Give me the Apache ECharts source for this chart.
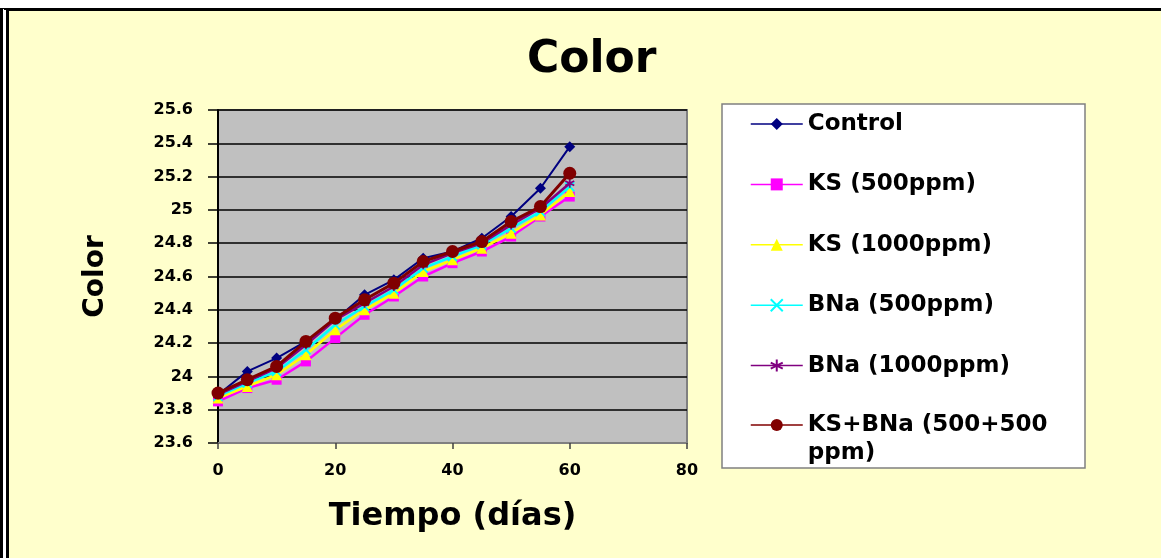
<!DOCTYPE html>
<html>
<head>
<meta charset="utf-8">
<script src="https://cdn.jsdelivr.net/npm/echarts@6/dist/echarts.min.js"></script>
<style>
  html, body { margin: 0; padding: 0; background: #ffffff; }
  #frame {
    position: absolute; left: 0; top: 8px; width: 1161px; height: 550px;
    box-sizing: border-box;
    border-top: 3px solid #000;
    border-left: 9px double #000;
    background: #FFFFCC; background-clip: padding-box;
  }
  #chart { position: absolute; left: 0; top: 0; width: 1161px; height: 558px; }
</style>
</head>
<body>
<div id="frame"></div>
<div id="chart"></div>
<script>
// Storage time (days)
const days = [0, 5, 10, 15, 20, 25, 30, 35, 40, 45, 50, 55, 60];

// Color readings per treatment
const control   = [23.89, 24.03, 24.11, 24.21, 24.34, 24.49, 24.58, 24.71, 24.75, 24.83, 24.96, 25.13, 25.38];
const ks500     = [23.85, 23.93, 23.98, 24.09, 24.23, 24.37, 24.48, 24.60, 24.68, 24.75, 24.84, 24.96, 25.08];
const ks1000    = [23.87, 23.94, 24.01, 24.13, 24.28, 24.40, 24.50, 24.63, 24.70, 24.77, 24.86, 24.97, 25.11];
const bna500    = [23.88, 23.96, 24.03, 24.16, 24.31, 24.42, 24.52, 24.65, 24.72, 24.79, 24.89, 24.99, 25.14];
const bna1000   = [23.89, 23.97, 24.05, 24.19, 24.34, 24.44, 24.54, 24.67, 24.74, 24.80, 24.91, 25.01, 25.16];
const ksBna     = [23.90, 23.98, 24.06, 24.21, 24.35, 24.46, 24.56, 24.69, 24.75, 24.81, 24.93, 25.02, 25.22];

const names = ['Control', 'KS (500ppm)', 'KS (1000ppm)', 'BNa (500ppm)', 'BNa (1000ppm)', 'KS+BNa (500+500 ppm)'];

const FONT = 'DejaVu Sans';

const chart = echarts.init(document.getElementById('chart'), null, { renderer: 'canvas' });

function pairs(vals) { return days.map((d, i) => [d, vals[i]]); }

const crossPath = 'path://M0,0 L10,10 M10,0 L0,10';
const starPath  = 'path://M5,0 L5,10 M0.7,2.5 L9.3,7.5 M9.3,2.5 L0.7,7.5';

const styles = [
  { color: '#000080', symbol: 'diamond',  size: 11, width: 2 },
  { color: '#FF00FF', symbol: 'rect',     size: 10, width: 2.5 },
  { color: '#FFFF00', symbol: 'triangle', size: 11, width: 2.5 },
  { color: '#00FFFF', symbol: crossPath,  size: 9,  width: 2.5, stroke: true },
  { color: '#800080', symbol: starPath,   size: 9,  width: 2.5, stroke: true },
  { color: '#800000', symbol: 'circle',   size: 13, width: 3 }
];
const values = [control, ks500, ks1000, bna500, bna1000, ksBna];

const series = values.map((vals, i) => {
  const s = styles[i];
  return {
    name: names[i],
    type: 'line',
    data: pairs(vals),
    symbol: s.symbol,
    symbolSize: s.size,
    showAllSymbol: true,
    lineStyle: { color: s.color, width: s.width },
    itemStyle: s.stroke
      ? { color: s.color, borderColor: s.color, borderWidth: 1.8 }
      : { color: s.color, borderWidth: 0 },
    emphasis: { disabled: true },
    z: 3 + i
  };
});

const legendText = { fontFamily: FONT, fontWeight: 'bold', fontSize: 23, color: '#000', lineHeight: 28 };

chart.setOption({
  animation: false,
  backgroundColor: 'transparent',
  title: {
    text: 'Color',
    left: 527, top: 39, padding: 0,
    textStyle: { fontFamily: FONT, fontWeight: 'bold', fontSize: 44, color: '#000' }
  },
  graphic: [{
    type: 'rect', z: 0,
    shape: { x: 722, y: 104, width: 363, height: 364 },
    style: { fill: '#ffffff', stroke: '#808080', lineWidth: 1.5 }
  }],
  legend: [{
    data: names.slice(0, 5),
    orient: 'vertical', left: 750, top: 110, padding: 0,
    itemWidth: 52, itemHeight: 15, itemGap: 32.4,
    lineStyle: { width: 1.5 },
    textStyle: legendText,
    selectedMode: false
  }, {
    // the last entry wraps onto a second line; the leading blank line keeps
    // the marker level with the first line of text
    data: names.slice(5),
    orient: 'vertical', left: 750, top: 383, padding: 0,
    itemWidth: 52, itemHeight: 15,
    lineStyle: { width: 1.5 },
    formatter: () => '\nKS+BNa (500+500\nppm)',
    textStyle: legendText,
    selectedMode: false
  }],
  grid: {
    left: 218, top: 110, right: 474, bottom: 115,
    show: true, backgroundColor: '#C0C0C0', borderColor: '#808080', borderWidth: 2
  },
  xAxis: {
    type: 'value', min: 0, max: 80, interval: 20,
    name: 'Tiempo (días)', nameLocation: 'middle', nameGap: 58,
    nameTextStyle: { fontFamily: FONT, fontWeight: 'bold', fontSize: 32, color: '#000' },
    axisLine: { show: true, lineStyle: { color: '#808080', width: 2 } },
    axisTick: { show: true, length: 6, lineStyle: { color: '#404040', width: 1.5 } },
    axisLabel: { margin: 20, fontFamily: FONT, fontWeight: 'bold', fontSize: 16, color: '#000' },
    splitLine: { show: false }
  },
  yAxis: {
    type: 'value', min: 23.6, max: 25.6, interval: 0.2,
    name: 'Color', nameLocation: 'middle', nameGap: 108, nameRotate: 90,
    nameTextStyle: { fontFamily: FONT, fontWeight: 'bold', fontSize: 28, color: '#000' },
    axisLine: { show: true, lineStyle: { color: '#000', width: 2 } },
    axisTick: { show: true, length: 10, lineStyle: { color: '#000', width: 1.5 } },
    axisLabel: {
      margin: 25, fontFamily: FONT, fontWeight: 'bold', fontSize: 16, color: '#000',
      formatter: v => String(Number(v.toFixed(1)))
    },
    splitLine: { show: true, lineStyle: { color: '#000', width: 1.5 } }
  },
  series: series
});
</script>
</body>
</html>
